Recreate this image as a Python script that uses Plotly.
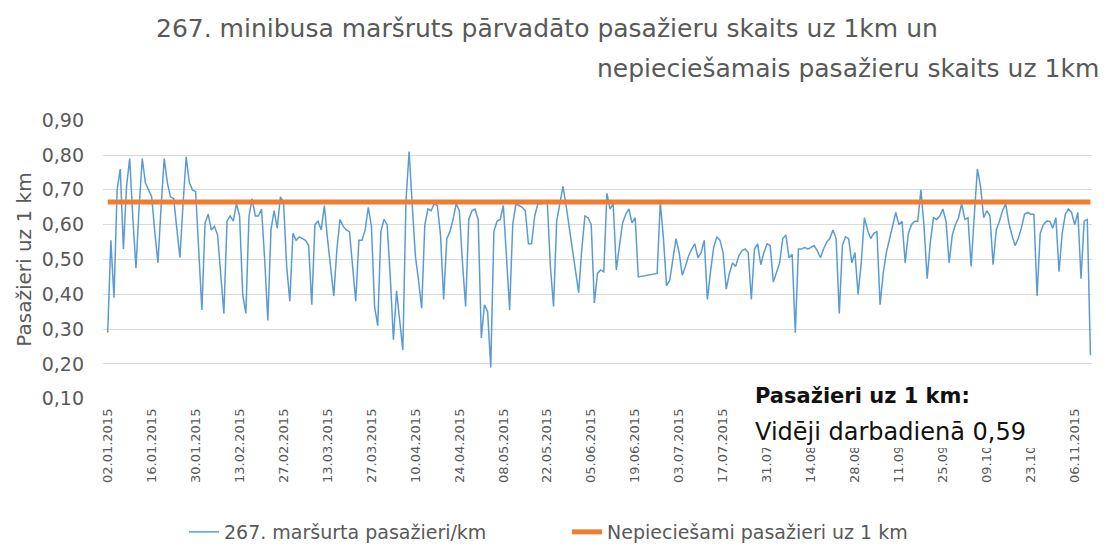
import plotly.graph_objects as go
import pandas as pd

# ---- data ----
start_date = "2015-01-02"
# daily passengers per km (None = no data; line is joined over the gap)
pass_per_km = [
    0.29, 0.555, 0.39, 0.70, 0.76, 0.53, 0.71,
    0.79, 0.62, 0.475, 0.65, 0.79, 0.72, 0.70,
    0.68, 0.58, 0.49, 0.65, 0.79, 0.72, 0.68,
    0.675, 0.58, 0.505, 0.66, 0.795, 0.72, 0.70,
    0.695, 0.53, 0.355, 0.605, 0.63, 0.585, 0.595,
    0.57, 0.46, 0.345, 0.61, 0.625, 0.61, 0.66,
    0.625, 0.40, 0.345, 0.625, 0.675, 0.625, 0.625,
    0.645, 0.50, 0.325, 0.585, 0.64, 0.59, 0.68,
    0.665, 0.48, 0.38, 0.575, 0.555, 0.565, 0.56,
    0.555, 0.54, 0.37, 0.60, 0.61, 0.585, 0.655,
    0.56, 0.48, 0.395, 0.53, 0.615, 0.595, 0.585,
    0.58, 0.48, 0.38, 0.555, 0.555, 0.585, 0.65,
    0.595, 0.365, 0.31, 0.58, 0.615, 0.60, 0.45,
    0.27, 0.41, 0.32, 0.24, 0.67, 0.81, 0.655,
    0.51, 0.44, 0.36, 0.60, 0.645, 0.64, 0.66,
    0.655, 0.57, 0.385, 0.56, 0.58, 0.615, 0.66,
    0.64, 0.49, 0.365, 0.615, 0.64, 0.645, 0.615,
    0.275, 0.37, 0.35, 0.19, 0.58, 0.61, 0.615,
    0.655, 0.51, 0.355, 0.60, 0.66, 0.655, 0.65,
    0.64, 0.545, 0.545, 0.625, 0.66, 0.66, 0.665,
    0.665, 0.48, 0.365, 0.61, 0.665, 0.71, 0.655,
    0.59, 0.52, 0.46, 0.405, 0.53, 0.625, 0.62,
    0.60, 0.375, 0.46, 0.47, 0.465, 0.69, 0.645,
    0.66, 0.47, 0.54, 0.605, 0.63, 0.645, 0.605,
    0.62, 0.45, None, None, None, None, None,
    0.46, 0.665, 0.56, 0.425, 0.44, 0.50, 0.56,
    0.52, 0.455, 0.48, 0.51, 0.53, 0.545, 0.505,
    0.52, 0.555, 0.385, 0.465, 0.535, 0.565, 0.555,
    0.52, 0.415, 0.46, 0.49, 0.48, 0.51, 0.525,
    0.53, 0.52, 0.385, 0.53, 0.545, 0.485, 0.52,
    0.545, 0.54, 0.435, 0.46, 0.49, 0.56, 0.57,
    0.505, 0.515, 0.29, 0.53, 0.53, 0.535, 0.53,
    0.535, 0.54, 0.525, 0.505, 0.53, 0.55, 0.56,
    0.585, 0.56, 0.345, 0.54, 0.565, 0.56, 0.49,
    0.52, 0.40, 0.49, 0.62, 0.585, 0.56, 0.575,
    0.58, 0.37, 0.46, 0.52, 0.56, 0.60, 0.635,
    0.60, 0.61, 0.49, 0.575, 0.60, 0.61, 0.61,
    0.70, 0.595, 0.445, 0.55, 0.62, 0.615, 0.625,
    0.645, 0.61, 0.49, 0.57, 0.60, 0.62, 0.66,
    0.615, 0.62, 0.48, 0.625, 0.76, 0.71, 0.62,
    0.64, 0.625, 0.485, 0.585, 0.61, 0.64, 0.66,
    0.605, 0.57, 0.54, 0.56, 0.59, 0.63, 0.635,
    0.63, 0.63, 0.395, 0.575, 0.60, 0.61, 0.61,
    0.59, 0.62, 0.465, 0.575, 0.63, 0.645, 0.635,
    0.60, 0.635, 0.445, 0.61, 0.615, 0.225,
]
required_per_km = 0.665
series_names = ["267. maršurta pasažieri/km", "Nepieciešami pasažieri uz 1 km"]
title_line1 = "267. minibusa maršruts pārvadāto pasažieru skaits uz 1km un"
title_line2 = "nepieciešamais pasažieru skaits uz 1km"
box_line1 = "Pasažieri uz 1 km:"
box_line2 = "Vidēji darbadienā 0,59"
y_title = "Pasažieri uz 1 km"
y_ticks = [0.10, 0.20, 0.30, 0.40, 0.50, 0.60, 0.70, 0.80, 0.90]

dates = pd.date_range(start_date, periods=len(pass_per_km), freq="D")

# ---- layout geometry (pixels) ----
W, H = 1106, 547
L, R, T, B = 103, 1092, 120, 399
PW, PH = R - L, B - T
def px(x):
    return (x - L) / PW
def py(y):
    return (B - y) / PH

FONT = "DejaVu Sans"
GRAY = "#595959"

fig = go.Figure()
fig.add_trace(go.Scatter(
    x=dates, y=pass_per_km, mode="lines", name=series_names[0],
    line=dict(color="#5B9BD5", width=1.5), connectgaps=True,
))
fig.add_trace(go.Scatter(
    x=[dates[0], dates[-1]], y=[required_per_km, required_per_km],
    mode="lines", name=series_names[1],
    line=dict(color="#ED7D31", width=5),
))

x0 = dates[0] - pd.Timedelta(hours=36)
x1 = dates[-1] + pd.Timedelta(hours=12)

fig.update_layout(
    width=W, height=H,
    margin=dict(l=L, r=W - R, t=T, b=H - B, pad=0, autoexpand=False),
    paper_bgcolor="white", plot_bgcolor="white",
    separators=", ",
    font=dict(family=FONT, color=GRAY),
    showlegend=True,
    legend=dict(orientation="h", x=px(184), xanchor="left", y=py(532),
                yanchor="middle", font=dict(size=19, color=GRAY),
                entrywidth=338, entrywidthmode="pixels",
                tracegroupgap=0, bgcolor="rgba(0,0,0,0)"),
    xaxis=dict(
        type="date", range=[x0, x1],
        tick0=start_date, dtick=14 * 86400000, tickformat="%d.%m.%Y",
        tickangle=-90, tickfont=dict(size=13, color=GRAY),
        showgrid=False, zeroline=False, showline=False, ticks="",
        ticklabelstandoff=6,
    ),
    yaxis=dict(
        range=[0.0995, 0.9005], tickvals=y_ticks, tickformat=".2f",
        tickfont=dict(size=19, color=GRAY),
        showgrid=True, gridcolor="#D9D9D9", gridwidth=1.2,
        zeroline=False, showline=False, ticks="", ticklabelstandoff=18,
        title=dict(text=y_title, font=dict(size=20, color=GRAY), standoff=4),
    ),
)

# white box covering the bottom-right tick labels
fig.add_shape(type="rect", xref="paper", yref="paper",
              x0=px(750), x1=px(1040), y0=py(448), y1=py(383),
              fillcolor="white", line=dict(width=0), layer="above")

annos = [
    dict(text=title_line1, x=px(547), y=py(28), size=25, xanchor="center"),
    dict(text=title_line2, x=px(1100), y=py(69), size=25, xanchor="right"),
    dict(text="<b>" + box_line1 + "</b>", x=px(754), y=py(396), size=21,
         xanchor="left", color="#111111"),
    dict(text=box_line2, x=px(754), y=py(432), size=24, xanchor="left",
         color="#111111"),
]
for a in annos:
    fig.add_annotation(text=a["text"], xref="paper", yref="paper",
                       x=a["x"], y=a["y"], xanchor=a["xanchor"],
                       yanchor="middle", showarrow=False, borderpad=0,
                       font=dict(family=FONT, size=a["size"],
                                 color=a.get("color", GRAY)))

# the page's default 8px body margin would shift the chart; remove it
fig.write_html("out.html", config={"displayModeBar": False},
               post_script="document.body.style.margin='0px';")
